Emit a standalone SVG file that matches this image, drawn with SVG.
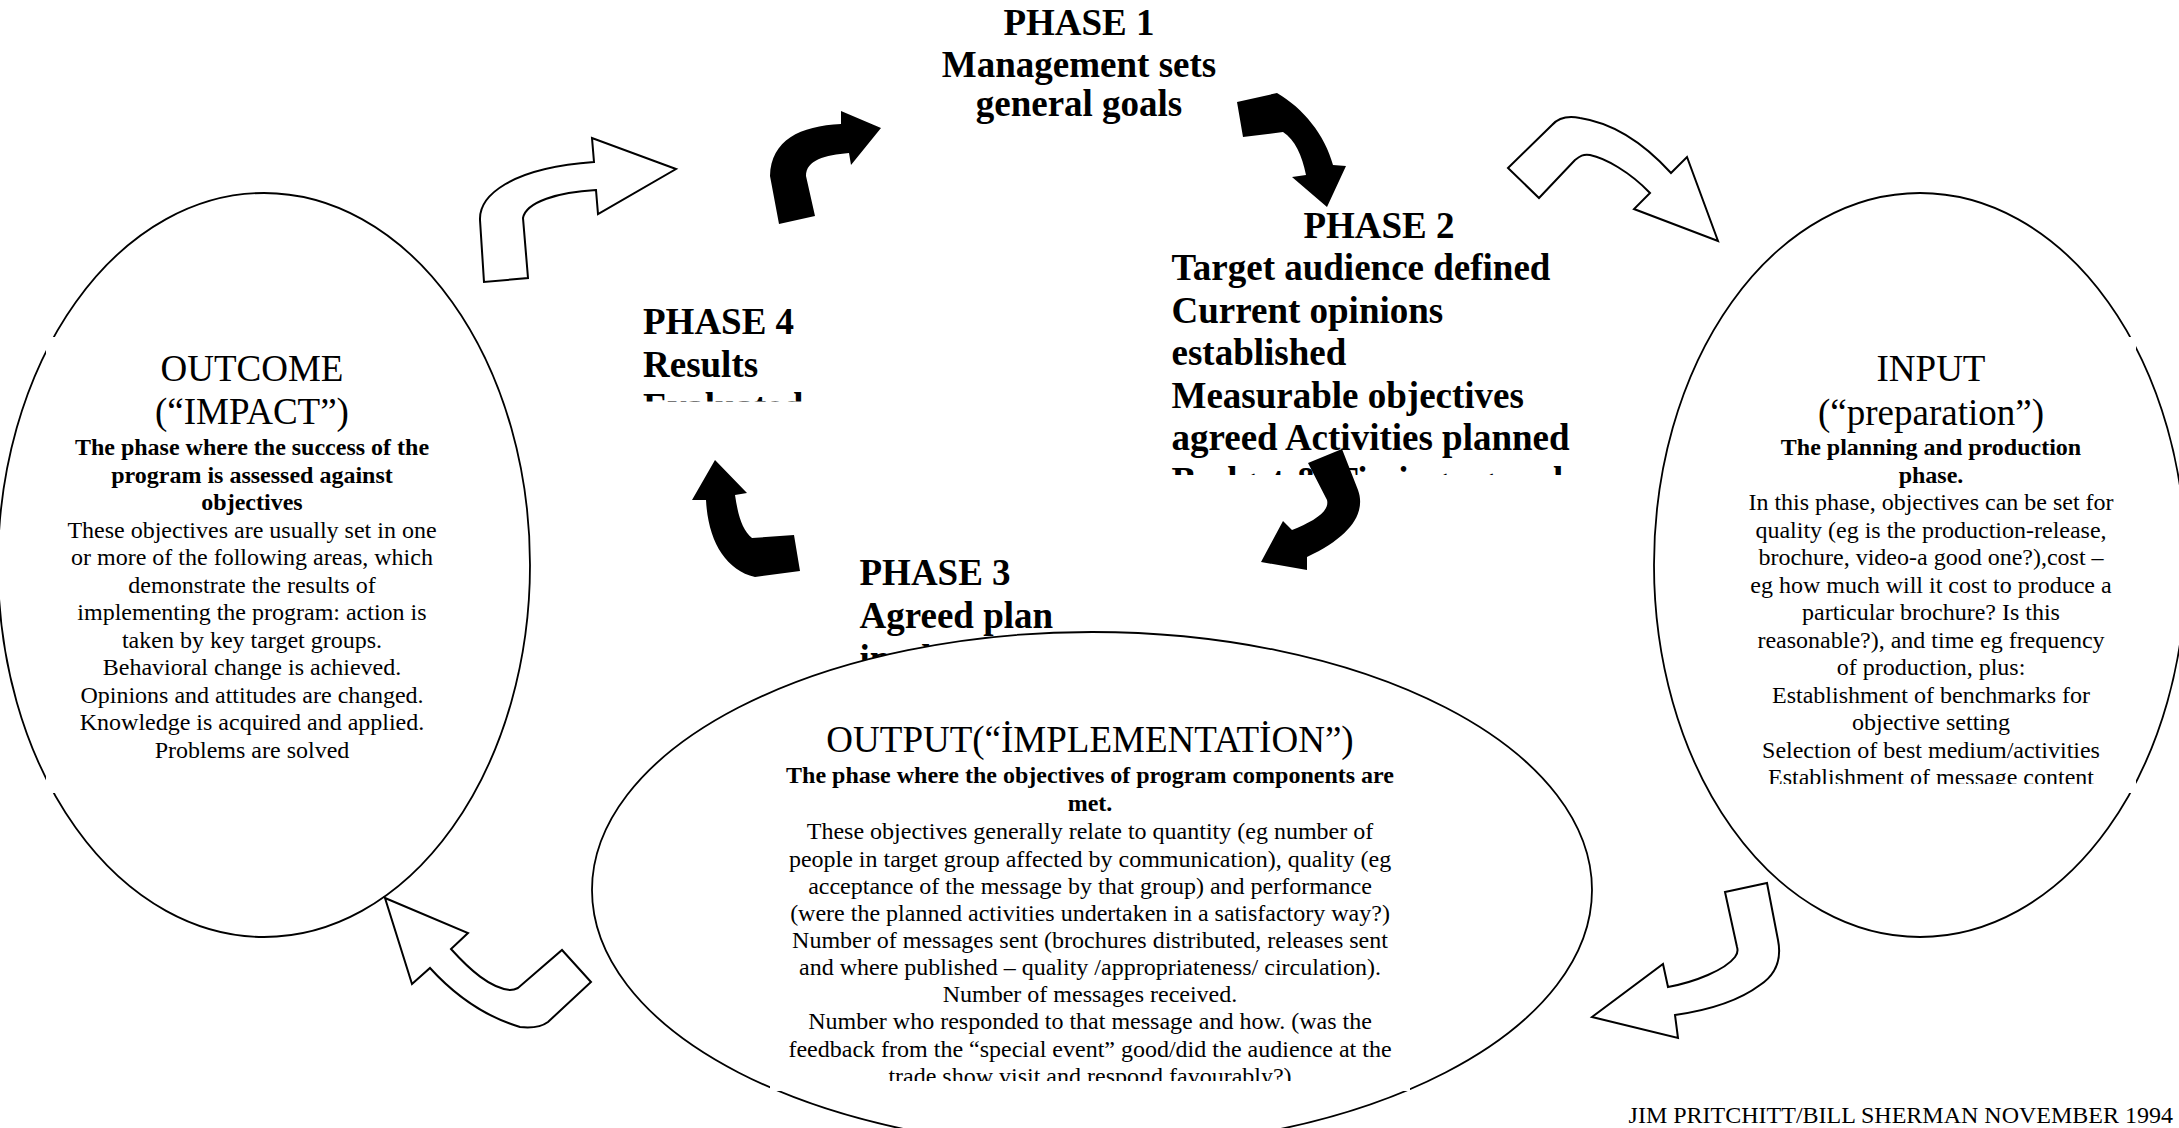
<svg xmlns="http://www.w3.org/2000/svg" width="2179" height="1128" viewBox="0 0 2179 1128">
<style>
.el{fill:#fff;stroke:#000;stroke-width:1.8}
.box{fill:#fff;stroke:none}
.t{font-family:"Liberation Serif","Times New Roman",serif;font-size:24px;text-anchor:middle;fill:#000}
.b{font-weight:bold}
.h{font-size:37px}
.ph{font-family:"Liberation Serif","Times New Roman",serif;font-weight:bold;font-size:37px;fill:#000}
.blk{fill:#000;stroke:none}
.wht{fill:#fff;stroke:#000;stroke-width:2;stroke-linejoin:miter}
</style>
<defs>
<clipPath id="cpInput"><rect x="1726" y="337" width="410" height="447"/></clipPath>
<clipPath id="cpOutput"><rect x="770" y="700" width="640" height="381"/></clipPath>
<clipPath id="cpP2"><rect x="1160" y="190" width="440" height="285"/></clipPath>
<clipPath id="cpP4"><rect x="630" y="290" width="280" height="111.5"/></clipPath>
</defs>
<rect width="2179" height="1128" fill="#fff"/>

<g id="outcome">
<ellipse class="el" cx="264" cy="565" rx="266" ry="372"/>
<rect class="box" x="46" y="337" width="412" height="456"/>
<text class="t h" x="252" y="381">OUTCOME</text>
<text class="t h" x="252" y="424">(“IMPACT”)</text>
<text class="t b"><tspan x="252" y="455.4">The phase where the success of the</tspan><tspan x="252" y="482.9">program is assessed against</tspan><tspan x="252" y="510.4">objectives</tspan></text>
<text class="t"><tspan x="252" y="537.9">These objectives are usually set in one</tspan><tspan x="252" y="565.4">or more of the following areas, which</tspan><tspan x="252" y="592.9">demonstrate the results of</tspan><tspan x="252" y="620.4">implementing the program: action is</tspan><tspan x="252" y="647.9">taken by key target groups.</tspan><tspan x="252" y="675.4">Behavioral change is achieved.</tspan><tspan x="252" y="702.9">Opinions and attitudes are changed.</tspan><tspan x="252" y="730.4">Knowledge is acquired and applied.</tspan><tspan x="252" y="757.9">Problems are solved</tspan></text>
</g>

<g id="input">
<ellipse class="el" cx="1920" cy="565" rx="266" ry="372"/>
<rect class="box" x="1726" y="337" width="410" height="456"/>
<g clip-path="url(#cpInput)">
<text class="t h" x="1931" y="381">INPUT</text>
<text class="t h" x="1931" y="425">(“preparation”)</text>
<text class="t b"><tspan x="1931" y="455.4">The planning and production</tspan><tspan x="1931" y="482.9">phase.</tspan></text>
<text class="t"><tspan x="1931" y="510.4">In this phase, objectives can be set for</tspan><tspan x="1931" y="537.9">quality (eg is the production-release,</tspan><tspan x="1931" y="565.4">brochure, video-a good one?),cost –</tspan><tspan x="1931" y="592.9">eg how much will it cost to produce a</tspan><tspan x="1931" y="620.4">particular brochure? Is this</tspan><tspan x="1931" y="647.9">reasonable?), and time eg frequency</tspan><tspan x="1931" y="675.4">of production, plus:</tspan><tspan x="1931" y="702.9">Establishment of benchmarks for</tspan><tspan x="1931" y="730.4">objective setting</tspan><tspan x="1931" y="757.9">Selection of best medium/activities</tspan><tspan x="1931" y="785.4">Establishment of message content</tspan></text>
</g>
</g>

<g id="phase1">
<text class="ph" text-anchor="middle" x="1079" y="35" font-size="30">PHASE 1</text>
<text class="ph" text-anchor="middle"><tspan x="1079" y="77">Management sets</tspan><tspan x="1079" y="116">general goals</tspan></text>
</g>

<g id="phase2" clip-path="url(#cpP2)">
<text class="ph" text-anchor="middle" x="1379" y="238">PHASE 2</text>
<text class="ph"><tspan x="1171.5" y="280">Target audience defined</tspan><tspan x="1171.5" y="322.5">Current opinions</tspan><tspan x="1171.5" y="365">established</tspan><tspan x="1171.5" y="407.5">Measurable objectives</tspan><tspan x="1171.5" y="450">agreed Activities planned</tspan><tspan x="1171.5" y="492.5">Budget &amp; Timing agreed</tspan></text>
</g>

<g id="phase4" clip-path="url(#cpP4)">
<text class="ph"><tspan x="643" y="334">PHASE 4</tspan><tspan x="643" y="376.5">Results</tspan><tspan x="643" y="419">Evaluated</tspan></text>
</g>

<g id="phase3">
<text class="ph"><tspan x="859.5" y="585">PHASE 3</tspan><tspan x="859.5" y="628">Agreed plan</tspan><tspan x="859.5" y="670.5">implemented</tspan></text>
</g>

<g id="connectors">
<path class="blk" d="M 779,224 L 770,176 C 771,140 800,126 841,124 L 841,111 L 881,128 L 851,165 L 849,153 C 825,155 806,160 806,176 L 815,216 Z"/>
<path class="blk" d="M 1237,102 L 1277,93 C 1303,108 1325,135 1333,165 L 1346,166 L 1327,207 L 1292,177 L 1306,175 C 1302,155 1295,140 1283,132 L 1243,137 Z"/>
<path class="blk" d="M 1308,463 L 1342,449 L 1358,490 C 1366,512 1352,536 1307,557 L 1307,570 L 1261,562 L 1283,521 L 1292,530 C 1312,522 1330,512 1327,500 Z"/>
<path class="blk" d="M 715,460 L 747,493 L 735,495 C 738,515 742,530 752,538 L 794,535 L 800,571 L 755,577 C 725,570 708,540 706,500 L 692,500 Z"/>
<path class="wht" d="M 484,282 L 480,220 C 479,196 510,168 594,162 L 592,138 L 676,169 L 598,214 L 596,190 C 558,192 526,202 523,218 L 528,278 Z"/>
<path class="wht" d="M 1508,168 L 1552,125 C 1560,116 1570,116 1580,118 C 1620,124 1650,150 1671,173 L 1687,157 L 1718,241 L 1634,209 L 1650,193 C 1630,172 1605,158 1590,155 C 1583,154 1580,156 1575,160 L 1539,198 Z"/>
<path class="wht" d="M 385,898 L 468,933 L 451,949 C 470,970 490,988 510,990 C 514,990 516,989 518,988 L 562,950 L 591,982 L 548,1022 C 540,1028 530,1028 520,1027 C 480,1015 450,990 430,968 L 412,984 Z"/>
<path class="wht" d="M 1725,892 L 1767,883 L 1778,940 C 1782,960 1775,975 1760,985 C 1740,1000 1710,1010 1675,1015 L 1678,1038 L 1592,1017 L 1663,964 L 1668,987 C 1695,982 1725,970 1735,957 C 1738,953 1738,950 1737,947 Z"/>
</g>

<g id="output">
<ellipse class="el" cx="1092" cy="890" rx="500" ry="258"/>
<rect class="box" x="770" y="715" width="640" height="376"/>
<g clip-path="url(#cpOutput)">
<text class="t h" x="1090" y="752">OUTPUT(“İMPLEMENTATİON”)</text>
<text class="t b"><tspan x="1090" y="783">The phase where the objectives of program components are</tspan><tspan x="1090" y="810.5">met.</tspan></text>
<text class="t"><tspan x="1090" y="839.4">These objectives generally relate to quantity (eg number of</tspan><tspan x="1090" y="866.5">people in target group affected by communication), quality (eg</tspan><tspan x="1090" y="893.7">acceptance of the message by that group) and performance</tspan><tspan x="1090" y="920.8">(were the planned activities undertaken in a satisfactory way?)</tspan><tspan x="1090" y="948">Number of messages sent (brochures distributed, releases sent</tspan><tspan x="1090" y="975.1">and where published – quality /appropriateness/ circulation).</tspan><tspan x="1090" y="1002.3">Number of messages received.</tspan><tspan x="1090" y="1029.4">Number who responded to that message and how. (was the</tspan><tspan x="1090" y="1056.6">feedback from the “special event” good/did the audience at the</tspan><tspan x="1090" y="1083.7">trade show visit and respond favourably?)</tspan></text>
</g>
</g>

<g id="footer">
<text class="t" style="text-anchor:end" x="2173" y="1123">JIM PRITCHITT/BILL SHERMAN NOVEMBER 1994</text>
</g>
</svg>
